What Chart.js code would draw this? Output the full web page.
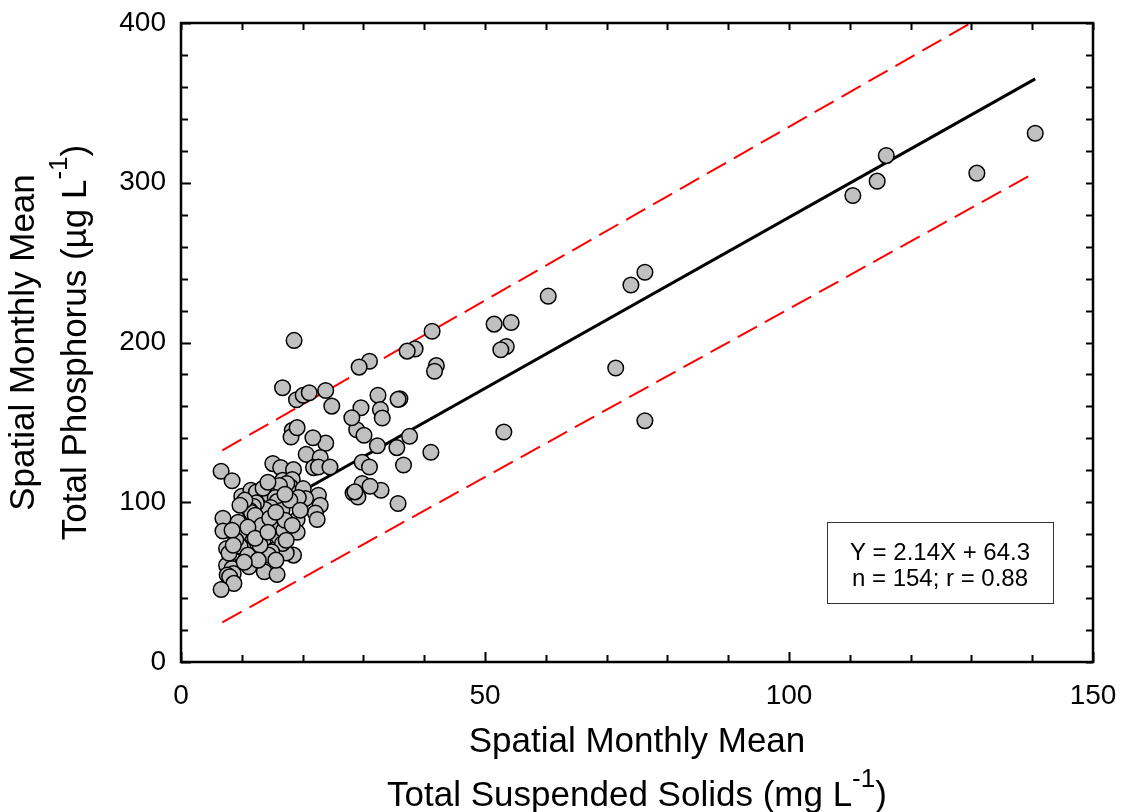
<!DOCTYPE html>
<html>
<head>
<meta charset="utf-8">
<script src="https://cdn.jsdelivr.net/npm/chart.js@4.4.1/dist/chart.umd.min.js"></script>
<style>
  html, body { margin: 0; padding: 0; background: #fff; }
</style>
</head>
<body>
<canvas id="myChart" width="1123" height="812"></canvas>
<script>
// values
const tssValues = [
  140.5, 130.9, 116, 114.5, 110.5, 76.3, 74, 71.5, 76.3, 60.4,
  54.3, 51.5, 53.5, 52.6, 53.1, 41.3, 42, 41.7, 41.1, 38.5,
  37.2, 37.6, 36.6, 36, 35.7, 35.5, 35.7, 32.9, 32.4, 32.8,
  33.1, 32.3, 31, 29.3, 29.6, 28.9, 30.1, 28.1, 29.8, 31,
  29.8, 31.1, 28.3, 29.1, 28.6, 24.8, 23.8, 23.8, 18.6, 16.7,
  19, 20.1, 21.1, 18.3, 18.1, 19.1, 21.7, 20.6, 22.9, 15.1,
  16.4, 18.5, 21.8, 22.6, 24.5, 16.7, 18.3, 18, 17.4, 20.1,
  22.6, 22.9, 22.1, 22.4, 19.1, 20.5, 19.3, 19.1, 16.2, 18.5,
  17.3, 6.6, 8.4, 10, 11.5, 12.4, 13.7, 14.6, 15.5, 15.8,
  16.6, 14.75, 13.8, 12.4, 11.9, 11.3, 11.6, 6.9, 6.9, 15,
  10.2, 11.3, 13, 14.1, 13.5, 9.7, 9.6, 16.1, 16.9, 16.7,
  7.5, 11.5, 10.2, 9.7, 14.9, 14.4, 7.8, 7.5, 8.4, 8.6,
  7.6, 8, 8.7, 11.2, 13.7, 15.8, 6.6, 10.5, 9.4, 12.2,
  13.3, 14.6, 17.1, 17.9, 13, 11, 9, 8.4, 12.7, 15.6,
  10.4, 7.9, 8.6, 9.7, 13.5, 14.3, 17.1, 19.6, 18.3, 15.6,
  11, 12.2, 14.3, 17.3
];
const tpValues = [
  331, 306, 317, 301, 292, 244, 236, 184, 151, 229,
  212.5, 211.5, 197.5, 195.5, 144, 207, 185.5, 182, 131.3, 196,
  194.6, 141.3, 123.3, 164.8, 164.4, 134.2, 99.2, 107.5, 167, 158.1,
  152.7, 135.4, 188.3, 184.6, 159.2, 145.4, 141.9, 152.9, 125, 122.1,
  111.7, 110, 105.8, 103.3, 106.5, 160.2, 170, 137, 201.3, 171.7,
  164.2, 167, 168.5, 145, 140.8, 146.7, 140.4, 130, 128, 124.2,
  121.7, 120.4, 121.7, 122.1, 122.1, 113.7, 114.2, 109.6, 111.7, 108.5,
  104.4, 98.1, 93.3, 89.2, 89.2, 102.3, 102.9, 81.2, 110.5, 66.9,
  68.3, 119.4, 113.5, 103.8, 107.5, 106.4, 102.3, 104.4, 102.9, 100.4,
  95, 96.7, 95.4, 99.6, 97.5, 95, 93.5, 90, 82, 85.6,
  79.4, 80.4, 82.5, 78.3, 76.2, 84.6, 80.4, 78.3, 82.5, 74.2,
  71, 71.6, 71, 72.5, 69, 66.9, 61.6, 60.6, 58.5, 55.4,
  54.4, 53.3, 49.2, 59.6, 56.5, 54.8, 45.4, 101.3, 87.5, 91.9,
  85.6, 90, 88.75, 101.3, 73.1, 66.9, 76.3, 82.5, 63.75, 63.75,
  62.5, 68.1, 73.1, 98.1, 108.75, 112.5, 105, 95, 85.6, 93.75,
  84.4, 77.5, 81.25, 76.25
];

// regression line and prediction band end points
const fitX = [6.6, 140.5];
const fitY = [78.4, 365];
const bandX = [6.8, 140.5];
const bandUpper = [132.5, 423];
const bandLower = [24.8, 306.4];

const xTickLabels = [0, 50, 100, 150];
const yTickLabels = [0, 100, 200, 300, 400];

const fontFamily = '"Liberation Sans", Arial, Helvetica, sans-serif';

function toPoints(xs, ys) {
  return xs.map((x, i) => ({ x: x, y: ys[i] }));
}

// box frame + inward tick marks
const frameTicks = {
  id: 'frameTicks',
  afterDraw(chart) {
    const ctx = chart.ctx;
    const a = chart.chartArea;
    const xs = chart.scales.x;
    const ys = chart.scales.y;
    ctx.save();
    ctx.strokeStyle = '#000';
    ctx.lineWidth = 2;
    ctx.beginPath();
    xs.ticks.forEach(t => {
      const px = Math.round(xs.getPixelForValue(t.value)) + 0.5;
      const len = xTickLabels.includes(t.value) ? 10 : 7;
      ctx.moveTo(px, a.bottom); ctx.lineTo(px, a.bottom - len);
      ctx.moveTo(px, a.top); ctx.lineTo(px, a.top + 7);
    });
    ys.ticks.forEach(t => {
      const py = Math.round(ys.getPixelForValue(t.value)) + 0.5;
      const len = yTickLabels.includes(t.value) ? 10 : 7;
      ctx.moveTo(a.left, py); ctx.lineTo(a.left + len, py);
      ctx.moveTo(a.right, py); ctx.lineTo(a.right - 7, py);
    });
    ctx.stroke();
    ctx.lineWidth = 2.5;
    ctx.strokeRect(a.left, a.top, a.right - a.left, a.bottom - a.top);
    ctx.restore();
  }
};

// axis titles (two lines with superscript) and the fit box
const titlesAndNote = {
  id: 'titlesAndNote',
  afterDraw(chart) {
    const ctx = chart.ctx;
    const a = chart.chartArea;
    const midX = (a.left + a.right) / 2;
    const midY = (a.top + a.bottom) / 2;
    ctx.save();
    ctx.fillStyle = '#000';
    ctx.textBaseline = 'alphabetic';

    function unitLine(main, sup, tail, cx, baseY) {
      ctx.font = '35px ' + fontFamily;
      const w1 = ctx.measureText(main).width;
      const w3 = ctx.measureText(tail).width;
      ctx.font = '26px ' + fontFamily;
      const w2 = ctx.measureText(sup).width;
      let x = cx - (w1 + w2 + w3) / 2;
      ctx.textAlign = 'left';
      ctx.font = '35px ' + fontFamily;
      ctx.fillText(main, x, baseY);
      x += w1;
      ctx.font = '26px ' + fontFamily;
      ctx.fillText(sup, x, baseY - 19);
      x += w2;
      ctx.font = '35px ' + fontFamily;
      ctx.fillText(tail, x, baseY);
    }

    // x title
    ctx.textAlign = 'center';
    ctx.font = '35px ' + fontFamily;
    ctx.fillText('Spatial Monthly Mean', midX, 752);
    unitLine('Total Suspended Solids (mg L', '-1', ')', midX, 806);

    // y title
    ctx.save();
    ctx.translate(0, midY);
    ctx.rotate(-Math.PI / 2);
    ctx.textAlign = 'center';
    ctx.font = '35px ' + fontFamily;
    ctx.fillText('Spatial Monthly Mean', 0, 34);
    unitLine('Total Phosphorus (\u00b5g L', '-1', ')', 0, 86);
    ctx.restore();

    // equation box
    const bx = a.right - 266, by = a.bottom - 140, bw = 226, bh = 81;
    ctx.lineWidth = 1;
    ctx.strokeStyle = '#333';
    ctx.strokeRect(bx + 0.5, by + 0.5, bw, bh);
    ctx.textAlign = 'center';
    ctx.font = '24px ' + fontFamily;
    ctx.fillText('Y = 2.14X + 64.3', bx + bw / 2, by + 38);
    ctx.fillText('n = 154; r = 0.88', bx + bw / 2, by + 64);
    ctx.restore();
  }
};

const chart = new Chart(document.getElementById('myChart'), {
  type: 'scatter',
  data: {
    datasets: [{
      data: toPoints(tssValues, tpValues),
      backgroundColor: '#c0c0c0',
      borderColor: '#000',
      borderWidth: 1.5,
      pointRadius: 7.8,
      order: 0
    }, {
      type: 'line',
      data: toPoints(fitX, fitY),
      borderColor: '#000',
      borderWidth: 3,
      pointRadius: 0,
      fill: false,
      order: 1
    }, {
      type: 'line',
      data: toPoints(bandX, bandUpper),
      borderColor: '#ff0000',
      borderWidth: 2,
      borderDash: [22, 9],
      pointRadius: 0,
      fill: false,
      order: 2
    }, {
      type: 'line',
      data: toPoints(bandX, bandLower),
      borderColor: '#ff0000',
      borderWidth: 2,
      borderDash: [22, 9],
      pointRadius: 0,
      fill: false,
      order: 2
    }]
  },
  options: {
    responsive: false,
    animation: false,
    events: [],
    devicePixelRatio: 1,
    layout: { padding: { top: 23, right: 30, left: 0, bottom: 0 } },
    plugins: { legend: { display: false }, tooltip: { enabled: false } },
    scales: {
      x: {
        type: 'linear', min: 0, max: 150,
        grid: { display: false, drawTicks: false },
        border: { display: false },
        ticks: {
          stepSize: 10, autoSkip: false, maxRotation: 0, padding: 17,
          color: '#000', font: { family: fontFamily, size: 28 },
          callback: v => xTickLabels.includes(v) ? String(v) : ''
        },
        afterFit: s => { s.height = 150; s.paddingLeft = 0; s.paddingRight = 0; }
      },
      y: {
        type: 'linear', min: 0, max: 400,
        grid: { display: false, drawTicks: false },
        border: { display: false },
        ticks: {
          stepSize: 20, autoSkip: false, padding: 15,
          color: '#000', font: { family: fontFamily, size: 28 },
          callback: v => yTickLabels.includes(v) ? String(v) : ''
        },
        afterFit: s => { s.width = 181; s.paddingTop = 0; s.paddingBottom = 0; }
      }
    }
  },
  plugins: [frameTicks, titlesAndNote]
});
</script>
</body>
</html>
